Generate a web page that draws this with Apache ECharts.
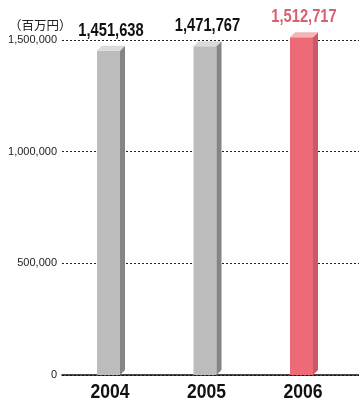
<!DOCTYPE html>
<html>
<head>
<meta charset="utf-8">
<script src="https://cdn.jsdelivr.net/npm/echarts@6/dist/echarts.min.js"></script>
<style>
  html, body { margin: 0; padding: 0; background: #fff; }
  #chart { width: 359px; height: 402px; }
</style>
</head>
<body>
<div id="chart"></div>
<script>
// Fiscal years and totals (millions of yen)
const years = ['2004', '2005', '2006'];
const totals = [1451638, 1471767, 1512717];
const highlightYear = '2006';
const yTicks = [0, 500000, 1000000, 1500000];
const unitLabel = '（百万円）';

const styles = {
  normal: { front: '#bcbcbc', side: '#858585', top: '#dadada', text: '#111111' },
  accent: { front: '#ee6a79', side: '#c95b69', top: '#f6b4b9', text: '#d9606f' }
};

const fmt = v => v.toLocaleString('en-US');
const sans = '"Liberation Sans", Arial, sans-serif';

const chart = echarts.init(document.getElementById('chart'));

// Each bar: front face, shaded side, lit top, value above and year below (condensed text)
function renderBar(params, api) {
  const idx = api.value(0);
  const val = api.value(1);
  const top = api.coord([idx, val]);
  const base = api.coord([idx, 0]);
  const w = 23, d = 5;
  const x0 = top[0] - (w + d) / 2;
  const cx = x0 + (w + d) / 2;
  const y0 = top[1];
  const y1 = base[1];
  const s = years[idx] === highlightYear ? styles.accent : styles.normal;
  return {
    type: 'group',
    children: [
      { type: 'rect', shape: { x: x0, y: y0, width: w, height: y1 - y0 }, style: { fill: s.front } },
      { type: 'polygon', shape: { points: [[x0 + w, y0], [x0 + w + d, y0 - d], [x0 + w + d, y1 - d], [x0 + w, y1]] }, style: { fill: s.side } },
      { type: 'polygon', shape: { points: [[x0, y0], [x0 + d, y0 - d], [x0 + w + d, y0 - d], [x0 + w, y0]] }, style: { fill: s.top } },
      { type: 'text', x: cx, y: y0 - d - 6, scaleX: 0.84,
        style: { text: fmt(val), fill: s.text, font: 'bold 17.5px ' + sans, align: 'center', verticalAlign: 'bottom' } },
      { type: 'text', x: cx - 1, y: y1 + 17.5, scaleX: 0.9,
        style: { text: years[idx], fill: '#111', font: 'bold 19.5px ' + sans, align: 'center', verticalAlign: 'middle' } }
    ]
  };
}

chart.setOption({
  animation: false,
  grid: [
    { left: 62, right: 0, top: 40, bottom: 27 },
    { left: 62.75, right: 6.75, top: 40, bottom: 27 }
  ],
  xAxis: [
    { gridIndex: 0, type: 'category', data: years, axisLine: { lineStyle: { color: '#111', width: 1.5 } },
      axisTick: { show: false }, axisLabel: { show: false } },
    { gridIndex: 1, type: 'category', data: years, axisLine: { show: false }, axisTick: { show: false },
      axisLabel: { show: false } }
  ],
  yAxis: [
    { gridIndex: 0, type: 'value', min: yTicks[0], max: yTicks[yTicks.length - 1], interval: yTicks[1] - yTicks[0],
      axisLine: { show: false }, axisTick: { show: false },
      axisLabel: { margin: 5, color: '#222', fontFamily: sans, fontSize: 11, formatter: v => fmt(v) },
      splitLine: { show: true, lineStyle: { color: '#222', type: [2, 2], width: 1 } } },
    { gridIndex: 1, type: 'value', min: yTicks[0], max: yTicks[yTicks.length - 1], interval: yTicks[1] - yTicks[0],
      show: false, splitLine: { show: false } }
  ],
  graphic: [
    { type: 'text', left: 9, top: 19, style: { text: unitLabel, fill: '#222', font: '12.5px "Noto Sans CJK JP", sans-serif' } }
  ],
  series: [
    { type: 'custom', xAxisIndex: 1, yAxisIndex: 1, clip: false, renderItem: renderBar,
      data: years.map((y, i) => [i, totals[i]]) }
  ]
});
</script>
</body>
</html>
